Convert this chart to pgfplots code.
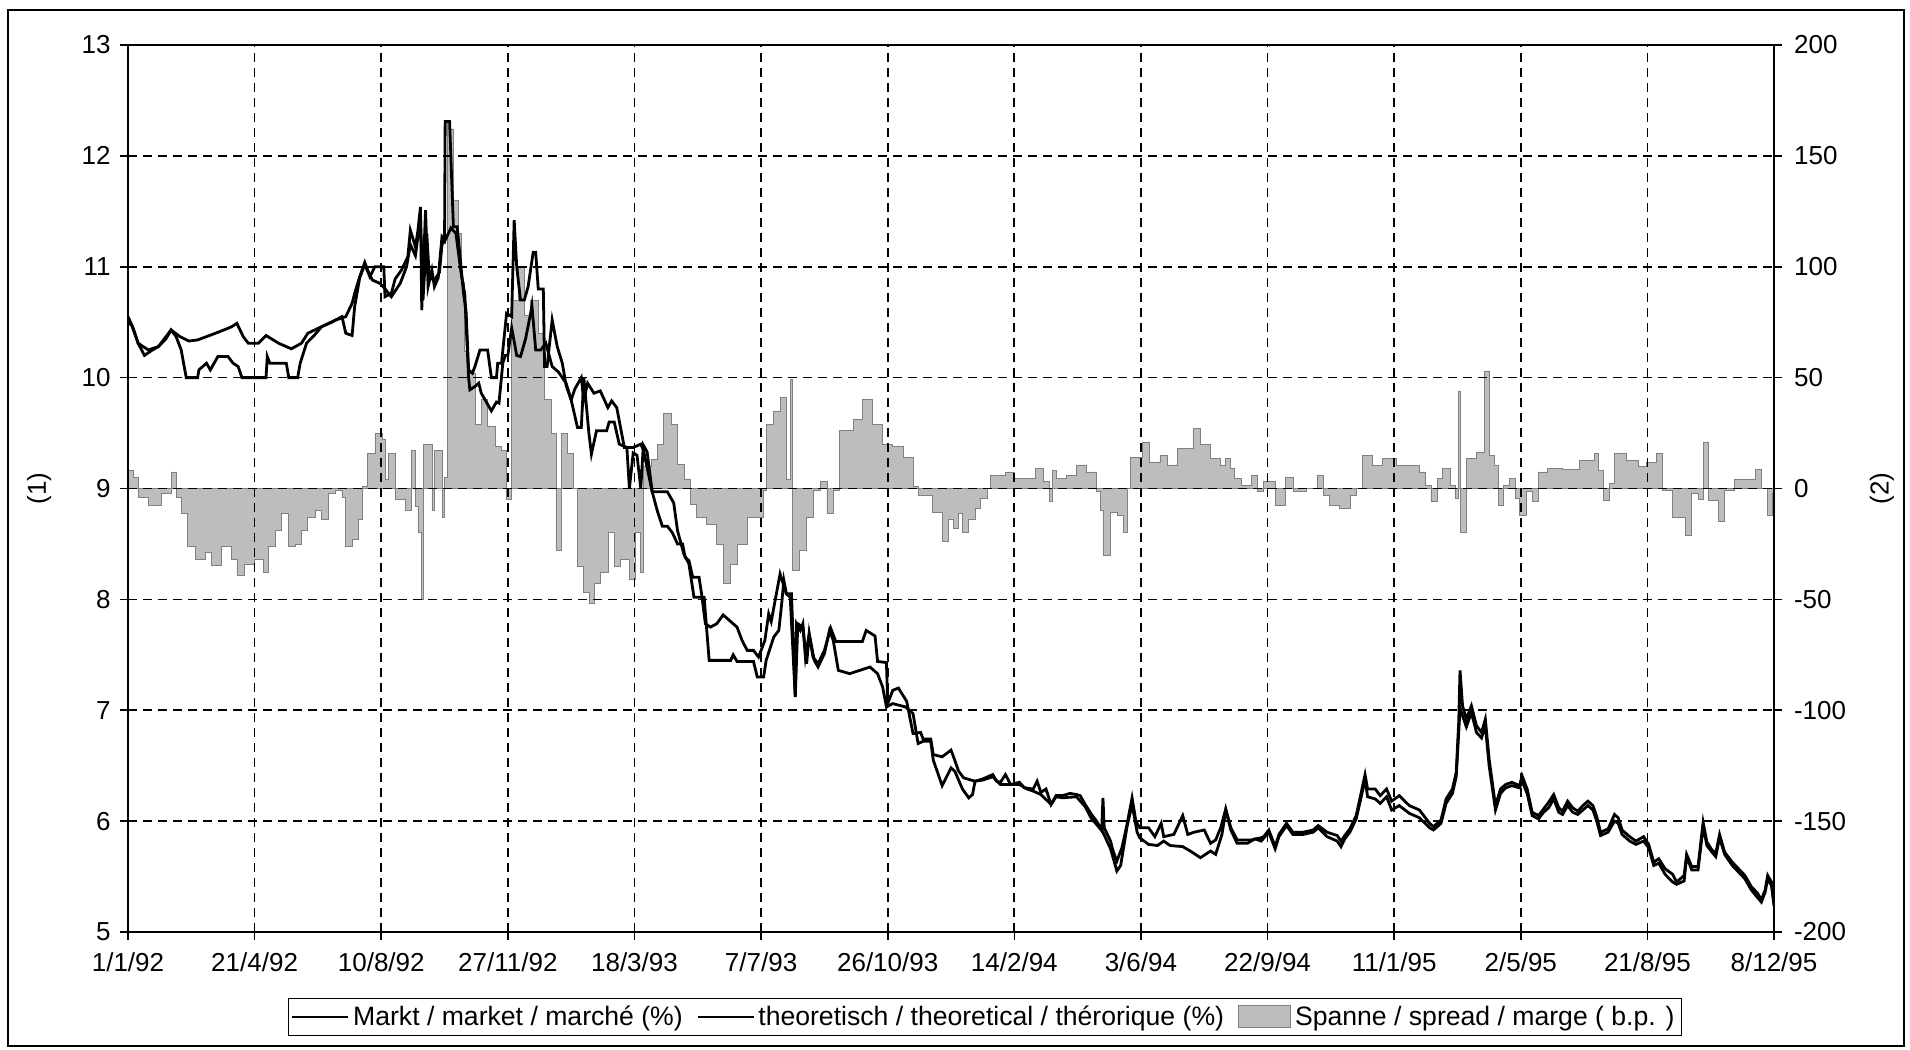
\documentclass[border=0pt]{standalone}
\usepackage{fontspec}
\setmainfont{Liberation Sans}
\usepackage{pgfplots}
\pgfplotsset{compat=1.18}
\newcommand\fs{\fontsize{13}{15.6}\selectfont}
\newcommand\fl{\fontsize{13.3}{16}\selectfont}
\definecolor{spreadfill}{gray}{0.74}
\definecolor{spreaddraw}{gray}{0.5}
\begin{document}
\begin{tikzpicture}
\path[use as bounding box] (0pt,0pt) rectangle (955pt,524.5pt);
\draw[line width=0.7pt] (4pt,1.5pt) rectangle (952pt,519.5pt);
% right axis: spread
\begin{axis}[
  at={(64pt,58.5pt)}, anchor=south west, scale only axis,
  width=823pt, height=443.5pt,
  xmin=0, xmax=13, ymin=-200, ymax=200,
  axis x line=none, axis y line*=right,
  ytick={-200,-150,...,200},
  tick align=outside, major tick length=4pt,
  axis line style={line width=0.8pt},
  tick style={line width=0.8pt, black},
  /pgf/number format/assume math mode=true,
  tick label style={font=\fs},
  yticklabel style={xshift=2.5pt},
  ylabel={(2)},
  ylabel style={at={(axis description cs:1.0656,0.5)}, anchor=center, font=\fs},
]
\addplot[const plot, fill=spreadfill, draw=spreaddraw, line width=0.35pt] coordinates {
(0,8)(0.04,5)(0.08,-4)(0.16,-7.5)(0.26,-2)(0.34,7.5)(0.38,-4)(0.42,-11)(0.47,-26)(0.53,-32)(0.61,-29)(0.66,-34.5)(0.74,-26)(0.82,-32)(0.86,-39)(0.92,-34)(1.0,-32)(1.07,-38)(1.11,-26)(1.16,-19)(1.21,-11)(1.27,-26)(1.32,-25)(1.37,-19)(1.42,-13)(1.48,-10)(1.53,-14)(1.58,-2)(1.64,-1)(1.69,-4)(1.72,-26)(1.77,-23)(1.82,-14)(1.85,1)(1.89,16)(1.95,25)(2.01,22)(2.03,4)(2.06,16)(2.11,-5)(2.19,-10)(2.24,17)(2.27,-8)(2.29,-20)(2.32,-50)(2.33,20)(2.37,20)(2.40,-10)(2.42,17)(2.48,-13)(2.50,5)(2.52,165)(2.54,162)(2.57,130)(2.61,115)(2.63,93)(2.66,62)(2.69,52)(2.74,29)(2.79,40)(2.84,28)(2.90,19)(2.95,17)(2.99,-5)(3.03,85)(3.08,100)(3.13,78)(3.18,85)(3.24,70)(3.29,40)(3.34,25)(3.38,-28)(3.42,25)(3.47,16)(3.52,0)(3.55,-35)(3.60,-47)(3.64,-52)(3.68,-43)(3.73,-38)(3.79,-20)(3.84,-35)(3.89,-32)(3.96,-41)(4.01,-20)(4.05,-38)(4.07,10)(4.13,13)(4.18,20)(4.23,34)(4.29,29)(4.34,11)(4.39,4)(4.44,-7)(4.49,-13)(4.57,-16)(4.65,-25)(4.70,-43)(4.76,-34)(4.81,-25)(4.89,-13)(4.97,-13)(5.02,-1)(5.04,29)(5.10,35)(5.15,41)(5.20,4)(5.23,49)(5.25,-37)(5.30,-28)(5.36,-13)(5.41,-1)(5.47,3)(5.52,-11)(5.57,-1)(5.62,26)(5.73,31)(5.80,40)(5.88,29)(5.96,20)(6.04,19)(6.12,14)(6.20,1)(6.24,-3)(6.35,-10.6)(6.43,-24)(6.48,-14)(6.52,-18)(6.56,-11)(6.59,-20)(6.64,-14)(6.69,-9)(6.73,-4.5)(6.79,0)(6.81,6)(6.93,7.5)(7.0,4.5)(7.09,4.5)(7.17,9)(7.23,3)(7.28,-6)(7.30,8)(7.33,4.5)(7.41,6)(7.49,10.6)(7.57,7.5)(7.61,7.5)(7.65,-1.5)(7.68,-10)(7.70,-30)(7.76,-10.6)(7.81,-12)(7.86,-20)(7.89,0)(7.92,14)(8.01,21)(8.07,12)(8.15,15)(8.21,10.6)(8.29,18)(8.41,27)(8.47,20)(8.55,13.6)(8.63,10.6)(8.67,13.6)(8.71,9)(8.74,4.5)(8.79,1.5)(8.87,6)(8.92,-1.5)(8.97,3)(9.06,-7.5)(9.14,5)(9.20,-1.5)(9.31,0)(9.39,6)(9.44,-3)(9.49,-7.5)(9.57,-9)(9.65,-3)(9.70,0)(9.75,15)(9.83,10.5)(9.91,13.5)(10.02,10.5)(10.12,10.5)(10.20,7.5)(10.25,1.5)(10.29,-6)(10.34,4.5)(10.38,9)(10.44,1.5)(10.48,-4.5)(10.51,44)(10.52,-20)(10.57,13.5)(10.65,16.5)(10.71,53)(10.75,15)(10.79,10.5)(10.82,-7.5)(10.86,1.5)(10.91,4.5)(10.96,-4.5)(10.99,-12)(11.04,-1.5)(11.09,-6)(11.14,7.5)(11.21,9)(11.33,8.6)(11.46,12.5)(11.58,16)(11.61,8)(11.65,-5.5)(11.70,2.3)(11.74,16)(11.83,12.5)(11.93,10)(11.99,11.7)(12.07,16)(12.12,-1)(12.20,-13)(12.30,-21)(12.35,-2.3)(12.40,-4.7)(12.44,21)(12.48,-5.5)(12.56,-15)(12.61,-1)(12.69,4)(12.85,8.6)(12.90,0)(12.95,-12)(12.99,-2.3)(13,0)
} \closedcycle;
\end{axis}
% left axis: rates
\begin{axis}[
  at={(64pt,58.5pt)}, anchor=south west, scale only axis,
  width=823pt, height=443.5pt,
  xmin=0, xmax=13, ymin=5, ymax=13,
  xtick={0,...,13}, ytick={5,...,13},
  xticklabels={1/1/92,21/4/92,10/8/92,27/11/92,18/3/93,7/7/93,26/10/93,14/2/94,3/6/94,22/9/94,11/1/95,2/5/95,21/8/95,8/12/95},
  xtick pos=left, ytick pos=left,
  tick align=outside, major tick length=4pt,
  axis line style={line width=0.8pt},
  tick style={line width=0.8pt, black},
  grid=major,
  major grid style={black, line width=0.85pt, dash pattern=on 4.5pt off 3pt},
  /pgf/number format/assume math mode=true,
  tick label style={font=\fs},
  xticklabel style={yshift=-2.7pt},
  yticklabel style={xshift=-1.2pt},
  ylabel={(1)},
  ylabel style={at={(axis description cs:-0.054,0.5)}, anchor=center, font=\fs},
  legend columns=3,
  legend cell align=left,
  legend style={at={(axis description cs:0.5207,-0.0744)}, anchor=north,
    draw=black, line width=0.6pt, font=\fl, inner sep=1.5pt,
    /tikz/every even column/.append style={column sep=5pt}},
]
\addplot[black, line width=1.4pt,
  legend image code/.code={\draw[black, line width=0.8pt] (0pt,0pt) -- (28pt,0pt);}] coordinates {
(0,10.5)(0.03,10.47)(0.08,10.31)(0.13,10.2)(0.18,10.24)(0.24,10.28)(0.30,10.35)(0.34,10.43)(0.38,10.37)(0.42,10.25)(0.46,10.0)(0.55,10.0)(0.56,10.07)(0.62,10.13)(0.65,10.07)(0.71,10.19)(0.79,10.19)(0.83,10.13)(0.87,10.1)(0.90,10.0)(1.09,10.0)(1.10,10.19)(1.12,10.13)(1.25,10.13)(1.27,10.0)(1.34,10.0)(1.36,10.13)(1.41,10.31)(1.47,10.38)(1.53,10.46)(1.61,10.5)(1.69,10.55)(1.72,10.4)(1.77,10.38)(1.79,10.64)(1.83,10.9)(1.87,11.02)(1.91,10.91)(1.95,11.0)(2.02,11.0)(2.03,10.73)(2.08,10.76)(2.11,10.89)(2.16,10.97)(2.21,11.09)(2.23,11.33)(2.27,11.18)(2.29,11.33)(2.31,11.54)(2.32,10.61)(2.35,11.51)(2.37,10.82)(2.40,10.97)(2.42,10.82)(2.45,10.9)(2.48,11.27)(2.50,11.24)(2.505,12.31)(2.54,12.31)(2.57,11.36)(2.60,11.36)(2.62,11.12)(2.65,10.76)(2.67,10.6)(2.69,10.07)(2.72,10.04)(2.74,10.1)(2.78,10.25)(2.84,10.25)(2.87,10.0)(2.91,10.0)(2.92,10.13)(2.95,10.13)(2.99,10.58)(3.03,10.55)(3.05,11.42)(3.07,11.0)(3.10,10.7)(3.13,10.7)(3.16,10.82)(3.20,11.13)(3.22,11.13)(3.24,10.8)(3.28,10.8)(3.29,10.1)(3.31,10.1)(3.35,10.52)(3.39,10.28)(3.43,10.13)(3.46,9.93)(3.50,9.8)(3.53,9.9)(3.58,10.0)(3.60,9.8)(3.63,9.95)(3.68,9.86)(3.73,9.88)(3.79,9.73)(3.82,9.79)(3.86,9.73)(3.92,9.37)(3.99,9.37)(4.05,9.4)(4.07,9.35)(4.14,8.97)(4.18,8.8)(4.22,8.66)(4.26,8.66)(4.30,8.6)(4.34,8.5)(4.38,8.5)(4.40,8.38)(4.43,8.35)(4.46,8.2)(4.51,8.2)(4.53,8.05)(4.56,7.78)(4.60,7.75)(4.65,7.78)(4.70,7.86)(4.74,7.82)(4.81,7.75)(4.85,7.63)(4.89,7.54)(4.94,7.54)(4.98,7.48)(5.03,7.63)(5.06,7.87)(5.08,7.8)(5.15,8.23)(5.20,8.05)(5.24,8.05)(5.27,7.12)(5.28,7.78)(5.31,7.72)(5.33,7.78)(5.35,7.48)(5.38,7.69)(5.42,7.45)(5.45,7.39)(5.50,7.51)(5.54,7.72)(5.57,7.63)(5.61,7.36)(5.70,7.33)(5.78,7.36)(5.86,7.39)(5.92,7.33)(5.96,7.21)(5.99,7.03)(6.04,7.06)(6.14,7.03)(6.20,6.97)(6.24,6.7)(6.28,6.72)(6.34,6.72)(6.36,6.55)(6.43,6.32)(6.50,6.48)(6.53,6.45)(6.59,6.29)(6.64,6.21)(6.67,6.24)(6.69,6.36)(6.75,6.37)(6.83,6.4)(6.89,6.33)(6.97,6.33)(7.04,6.33)(7.10,6.29)(7.15,6.27)(7.21,6.24)(7.29,6.15)(7.33,6.22)(7.38,6.21)(7.49,6.22)(7.56,6.13)(7.61,6.02)(7.65,5.97)(7.70,5.9)(7.76,5.75)(7.81,5.55)(7.84,5.6)(7.89,5.95)(7.93,6.15)(7.97,5.9)(7.99,5.85)(8.06,5.79)(8.13,5.78)(8.18,5.82)(8.23,5.78)(8.33,5.77)(8.39,5.73)(8.47,5.67)(8.55,5.73)(8.59,5.7)(8.64,5.88)(8.67,6.1)(8.71,5.92)(8.76,5.8)(8.84,5.8)(8.90,5.84)(8.95,5.82)(9.01,5.9)(9.06,5.75)(9.09,5.86)(9.15,5.96)(9.20,5.88)(9.28,5.88)(9.36,5.9)(9.40,5.94)(9.47,5.86)(9.55,5.82)(9.58,5.77)(9.61,5.84)(9.65,5.9)(9.70,6.02)(9.74,6.22)(9.77,6.38)(9.79,6.22)(9.85,6.2)(9.89,6.16)(9.94,6.22)(9.98,6.1)(10.04,6.14)(10.12,6.07)(10.20,6.03)(10.28,5.94)(10.31,5.92)(10.37,5.98)(10.41,6.16)(10.46,6.25)(10.49,6.4)(10.51,6.8)(10.52,7.02)(10.54,6.95)(10.57,6.85)(10.61,6.98)(10.65,6.8)(10.69,6.75)(10.72,6.86)(10.75,6.5)(10.80,6.1)(10.84,6.25)(10.88,6.3)(10.93,6.32)(10.99,6.3)(11.01,6.36)(11.05,6.25)(11.09,6.05)(11.14,6.02)(11.18,6.08)(11.22,6.12)(11.26,6.2)(11.30,6.08)(11.33,6.06)(11.37,6.14)(11.41,6.08)(11.45,6.06)(11.49,6.1)(11.53,6.14)(11.57,6.1)(11.60,6.0)(11.63,5.87)(11.69,5.9)(11.74,6.0)(11.77,5.98)(11.80,5.88)(11.86,5.82)(11.91,5.79)(11.97,5.82)(12.01,5.76)(12.05,5.6)(12.09,5.62)(12.14,5.52)(12.20,5.45)(12.23,5.43)(12.29,5.46)(12.31,5.68)(12.35,5.56)(12.40,5.56)(12.44,5.95)(12.47,5.78)(12.51,5.72)(12.54,5.68)(12.57,5.85)(12.61,5.7)(12.67,5.6)(12.72,5.54)(12.77,5.48)(12.82,5.38)(12.87,5.31)(12.90,5.27)(12.93,5.36)(12.95,5.48)(12.98,5.42)(13.0,5.25)
};
\addlegendentry{Markt / market / marché (\%)}
\addplot[black, line width=1.4pt,
  legend image code/.code={\draw[black, line width=0.8pt] (0pt,0pt) -- (28pt,0pt);}] coordinates {
(0,10.55)(0.04,10.45)(0.08,10.31)(0.16,10.25)(0.24,10.28)(0.34,10.43)(0.41,10.37)(0.48,10.33)(0.55,10.34)(0.69,10.40)(0.78,10.44)(0.82,10.46)(0.86,10.49)(0.91,10.37)(0.95,10.31)(1.03,10.31)(1.09,10.38)(1.19,10.31)(1.29,10.26)(1.37,10.31)(1.42,10.40)(1.53,10.46)(1.64,10.52)(1.72,10.55)(1.77,10.67)(1.79,10.76)(1.83,10.91)(1.87,11.04)(1.90,10.95)(1.93,10.88)(1.99,10.85)(2.03,10.8)(2.08,10.73)(2.15,10.85)(2.20,11.0)(2.23,11.2)(2.27,11.1)(2.31,11.45)(2.33,10.7)(2.36,11.3)(2.38,10.9)(2.42,10.88)(2.46,10.95)(2.48,11.2)(2.51,11.25)(2.55,11.35)(2.59,11.3)(2.63,10.95)(2.66,10.75)(2.69,10.0)(2.70,9.89)(2.74,9.92)(2.77,9.95)(2.79,9.86)(2.82,9.8)(2.87,9.7)(2.91,9.78)(2.93,9.77)(2.96,10.13)(2.98,10.2)(3.0,10.2)(3.03,10.45)(3.07,10.2)(3.10,10.19)(3.14,10.35)(3.18,10.58)(3.19,10.65)(3.22,10.25)(3.26,10.25)(3.30,10.31)(3.35,10.1)(3.40,10.05)(3.46,9.95)(3.50,9.8)(3.55,9.55)(3.58,9.55)(3.60,10.0)(3.64,9.5)(3.66,9.31)(3.70,9.52)(3.78,9.52)(3.80,9.6)(3.84,9.6)(3.88,9.4)(3.94,9.37)(3.96,9.0)(3.99,9.32)(4.02,9.3)(4.05,9.0)(4.07,9.39)(4.10,9.33)(4.14,8.97)(4.26,8.97)(4.31,8.87)(4.34,8.62)(4.39,8.41)(4.43,8.32)(4.47,8.02)(4.55,8.02)(4.59,7.45)(4.76,7.45)(4.78,7.5)(4.81,7.44)(4.94,7.44)(4.97,7.3)(5.02,7.3)(5.04,7.45)(5.10,7.66)(5.14,7.72)(5.16,7.93)(5.18,8.17)(5.20,8.05)(5.23,8.02)(5.27,7.12)(5.29,7.78)(5.33,7.75)(5.36,7.42)(5.38,7.69)(5.41,7.48)(5.45,7.42)(5.50,7.54)(5.55,7.74)(5.59,7.62)(5.80,7.62)(5.83,7.72)(5.90,7.67)(5.92,7.44)(5.99,7.43)(6.0,7.06)(6.04,7.18)(6.085,7.2)(6.15,7.08)(6.20,6.79)(6.26,6.8)(6.28,6.74)(6.34,6.74)(6.36,6.6)(6.43,6.58)(6.50,6.64)(6.52,6.58)(6.56,6.45)(6.60,6.39)(6.69,6.36)(6.75,6.38)(6.83,6.42)(6.86,6.36)(6.89,6.35)(6.93,6.42)(6.97,6.33)(7.04,6.35)(7.08,6.3)(7.15,6.29)(7.18,6.36)(7.21,6.26)(7.25,6.29)(7.29,6.15)(7.33,6.23)(7.38,6.23)(7.44,6.25)(7.49,6.24)(7.52,6.23)(7.56,6.15)(7.61,6.06)(7.65,6.0)(7.69,5.92)(7.70,6.21)(7.71,5.94)(7.76,5.82)(7.78,5.73)(7.81,5.64)(7.85,5.76)(7.89,5.97)(7.93,6.21)(7.96,6.0)(7.99,5.94)(8.06,5.94)(8.11,5.86)(8.16,5.98)(8.18,5.86)(8.26,5.88)(8.33,6.05)(8.37,5.88)(8.42,5.9)(8.50,5.92)(8.55,5.8)(8.59,5.83)(8.63,5.94)(8.67,6.11)(8.71,5.94)(8.76,5.83)(8.87,5.83)(8.95,5.85)(8.97,5.86)(9.01,5.92)(9.06,5.77)(9.09,5.88)(9.15,5.98)(9.20,5.9)(9.28,5.9)(9.36,5.92)(9.40,5.96)(9.47,5.9)(9.55,5.87)(9.58,5.82)(9.61,5.87)(9.65,5.93)(9.70,6.05)(9.74,6.26)(9.77,6.42)(9.79,6.29)(9.85,6.29)(9.89,6.23)(9.94,6.29)(9.98,6.18)(10.04,6.23)(10.12,6.14)(10.20,6.1)(10.28,5.98)(10.31,5.95)(10.37,6.01)(10.41,6.2)(10.46,6.29)(10.49,6.44)(10.51,6.9)(10.52,7.36)(10.54,7.04)(10.57,6.92)(10.61,7.04)(10.65,6.86)(10.69,6.8)(10.72,6.92)(10.75,6.56)(10.80,6.14)(10.84,6.29)(10.88,6.33)(10.93,6.35)(10.99,6.32)(11.01,6.41)(11.05,6.29)(11.09,6.08)(11.14,6.05)(11.18,6.11)(11.22,6.17)(11.26,6.24)(11.30,6.12)(11.33,6.09)(11.37,6.18)(11.41,6.12)(11.45,6.09)(11.49,6.14)(11.53,6.18)(11.57,6.14)(11.60,6.04)(11.63,5.9)(11.69,5.93)(11.74,6.06)(11.77,6.03)(11.80,5.92)(11.86,5.86)(11.91,5.82)(11.97,5.86)(12.01,5.79)(12.05,5.63)(12.09,5.66)(12.14,5.57)(12.20,5.52)(12.23,5.45)(12.29,5.51)(12.31,5.7)(12.35,5.59)(12.40,5.59)(12.44,5.99)(12.47,5.81)(12.51,5.74)(12.54,5.71)(12.57,5.88)(12.61,5.72)(12.67,5.63)(12.72,5.57)(12.77,5.51)(12.82,5.41)(12.87,5.35)(12.90,5.29)(12.93,5.38)(12.95,5.51)(12.98,5.45)(13.0,5.23)
};
\addlegendentry{theoretisch / theoretical / thérorique (\%)}
\addlegendimage{legend image code/.code={\draw[fill=spreadfill, draw=spreaddraw, line width=0.5pt] (0pt,-5.5pt) rectangle (26pt,5.5pt);}}
\addlegendentry{Spanne / spread / marge ( b.p. )}
\end{axis}
\end{tikzpicture}
\end{document}
